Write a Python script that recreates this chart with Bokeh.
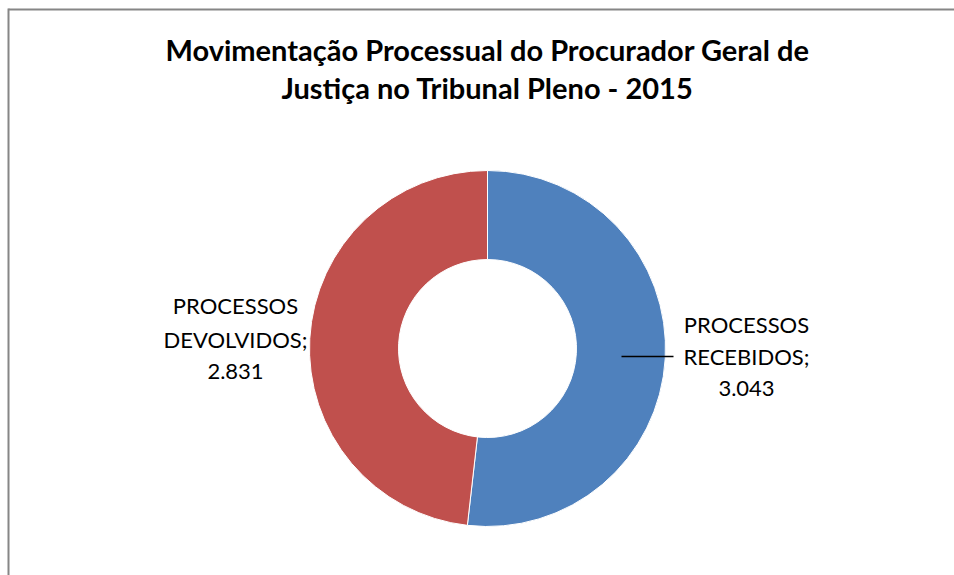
from bokeh.plotting import figure
from bokeh.models import Range1d
from bokeh.core.properties import value
from bokeh.embed import file_html
from bokeh.resources import INLINE
import numpy as np

categories = ["PROCESSOS RECEBIDOS", "PROCESSOS DEVOLVIDOS"]
values = [3043, 2831]
value_labels = ["3.043", "2.831"]
colors = ["#4F81BD", "#C0504D"]
title_lines = ["Movimentação Processual do Procurador Geral de", "Justiça no Tribunal Pleno - 2015"]

W, H = 954, 575
p = figure(width=W, height=H, output_backend="svg", toolbar_location=None,
           x_range=Range1d(0, W), y_range=Range1d(0, H), min_border=0)
p.axis.visible = False
p.grid.visible = False
p.outline_line_color = None
p.background_fill_color = "white"
p.border_fill_color = "white"

def Y(page_y):
    return H - page_y
def X(page_x):
    return page_x

# chart area border (top and left, the rest runs off the page)
p.segment(x0=[X(8), X(8)], y0=[Y(575), Y(9)], x1=[X(8), X(954)], y1=[Y(8), Y(9)],
          line_color="#868686", line_width=2)

# donut
cx, cy = X(487), Y(348)
R_out, R_in = 178, 89
total = sum(values)
fr = np.array(values) / total
ends = 90 - 360 * np.cumsum(fr)
starts = np.concatenate([[90], ends[:-1]])
p.annular_wedge(x=[cx] * len(values), y=[cy] * len(values), inner_radius=R_in, outer_radius=R_out,
                start_angle=list(starts), end_angle=list(ends), start_angle_units="deg",
                end_angle_units="deg", direction="clock", fill_color=colors,
                line_color="white", line_width=1)

# title
p.text(x=[X(487)] * 2, y=[Y(49), Y(87)], text=title_lines, text_align="center",
       text_baseline="middle", text_font=value("Lato"), text_font_style="bold",
       text_font_size="29px", text_color="black")

# labels
lab_font = "22px"
right_lines = ["PROCESSOS", "RECEBIDOS;", value_labels[0]]
left_lines = ["PROCESSOS", "DEVOLVIDOS;", value_labels[1]]
p.text(x=[X(746)] * 3, y=[Y(324), Y(356), Y(388)], text=right_lines, text_align="center",
       text_baseline="middle", text_font=value("Lato"), text_font_size=lab_font, text_color="black")
p.text(x=[X(235)] * 3, y=[Y(305), Y(339), Y(371)], text=left_lines, text_align="center",
       text_baseline="middle", text_font=value("Lato"), text_font_size=lab_font, text_color="black")

# leader line
p.line([X(621), X(673)], [Y(356), Y(356)], line_color="black", line_width=1.5)

open("out.html", "w").write(file_html(p, INLINE))
